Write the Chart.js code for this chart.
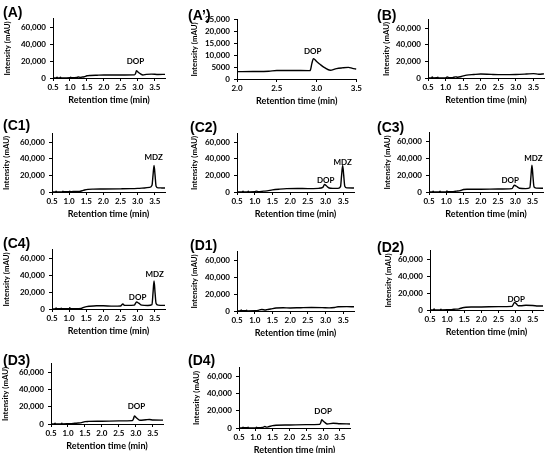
<!DOCTYPE html>
<html>
<head>
<meta charset="utf-8">
<script src="https://cdn.jsdelivr.net/npm/chart.js@4.4.1/dist/chart.umd.min.js"></script>
<style>
  body { margin: 0; background: #fff; }
  #page { position: relative; width: 550px; height: 453px; overflow: hidden; }
  .pane { position: absolute; }
  .tag { position: absolute; font: bold 14px "Liberation Sans", Arial, sans-serif; line-height: 16px; color: #000; }
</style>
</head>
<body>
<div id="page"></div>
<script>
// ---- data ----
var xTicksFull = [0.5, 1.0, 1.5, 2.0, 2.5, 3.0, 3.5];
var xTicksZoom = [2.0, 2.5, 3.0, 3.5];
var yTicksFull = [0, 20000, 40000, 60000];
var yLabelsFull = ['0', '20,000', '40,000', '60,000'];
var yTicksZoom = [0, 5000, 10000, 15000, 20000, 25000];
var yLabelsZoom = ['0', '5000', '10,000', '15,000', '20,000', '25,000'];

var tA = [0.5,0.6,0.62,0.64,0.7,0.72,0.74,0.9,1.0,1.02,1.05,1.2,1.25,1.3,1.35,1.42,1.5,1.6,1.8,2.0,2.3,2.6,2.9,2.93,2.96,3.0,3.08,3.15,3.25,3.4,3.6,3.8];
var yA = [0,200,1000,200,200,900,200,100,300,1000,300,600,1200,700,1000,1500,2600,3000,3300,3500,3500,3600,3700,5000,8600,7200,4800,3600,4300,4600,4200,4300];
var notesA = [['DOP', 2.93, 19500]];

var tAp = [2.0,2.2,2.4,2.5,2.7,2.9,2.92,2.94,2.96,3.0,3.05,3.1,3.17,3.25,3.32,3.4,3.45,3.5];
var yAp = [3100,3150,3300,3600,3600,3550,3600,6500,8600,7400,6000,4800,3700,4400,4700,4900,4500,4200];
var notesAp = [['DOP', 2.95, 11700]];

var tB = [0.5,0.6,0.62,0.65,0.75,0.78,0.8,1.0,1.05,1.1,1.2,1.28,1.35,1.45,1.6,1.8,2.0,2.3,2.6,3.0,3.3,3.5,3.65,3.8];
var yB = [0,300,1200,200,300,1000,200,200,1200,300,500,1400,900,1800,3400,4200,4800,4300,4000,4200,4800,5300,4500,5000];

var tC1 = [0.5,0.6,0.62,0.64,0.8,0.82,0.84,1.0,1.02,1.04,1.2,1.3,1.38,1.45,1.55,1.7,2.0,2.5,2.8,3.0,3.2,3.35,3.42,3.45,3.48,3.51,3.54,3.6,3.7,3.8];
var yC1 = [0,200,900,200,300,1000,300,300,1100,300,800,700,1500,2400,3200,3500,3600,3800,4000,4300,4800,5500,8000,20000,32000,20000,7000,5000,4900,4800];
var notesC1 = [['MDZ', 3.47, 42000]];

var tC2 = [0.5,0.65,0.67,0.69,0.8,0.82,0.84,1.0,1.05,1.1,1.25,1.35,1.5,1.7,1.9,2.2,2.5,2.8,2.92,2.97,3.02,3.1,3.2,3.35,3.42,3.45,3.48,3.51,3.54,3.6,3.8];
var yC2 = [0,200,1000,200,200,900,200,300,1000,400,1000,1300,2500,3400,4000,4200,4100,4400,5500,9000,7500,4800,4300,4400,6500,20000,32000,20000,7000,5000,4800];
var notesC2 = [['DOP', 3.0, 13500], ['MDZ', 3.48, 36000]];

var tC3 = [0.5,0.6,0.62,0.64,0.8,0.82,0.84,1.0,1.02,1.04,1.2,1.3,1.4,1.5,1.6,2.0,2.5,2.9,2.97,3.03,3.12,3.3,3.42,3.45,3.48,3.51,3.54,3.6,3.8];
var yC3 = [0,200,900,200,200,900,200,300,1200,300,500,1000,1600,3000,3300,3300,3500,4000,7900,6800,4500,4000,5000,18000,31600,18000,6000,4600,4500];
var notesC3 = [['DOP', 2.85, 13500], ['MDZ', 3.52, 40000]];

var tC4 = [0.5,0.6,0.62,0.64,0.75,0.77,0.79,1.0,1.02,1.04,1.2,1.35,1.45,1.6,1.8,2.0,2.3,2.5,2.57,2.62,2.7,2.9,2.97,3.03,3.12,3.3,3.42,3.45,3.48,3.51,3.54,3.6,3.8];
var yC4 = [0,300,1100,300,300,1000,300,300,1400,400,300,700,2300,3300,3900,3800,3400,3600,5900,4300,4300,4600,8200,7000,4600,4200,5200,19000,33300,19000,6500,4600,4300];
var notesC4 = [['DOP', 3.0, 13600], ['MDZ', 3.5, 41000]];

var tD1 = [0.5,0.6,0.62,0.64,0.75,0.77,0.79,1.0,1.05,1.1,1.2,1.3,1.35,1.45,1.6,1.8,2.0,2.3,2.6,2.9,3.1,3.25,3.35,3.6,3.8];
var yD1 = [0,300,1200,300,300,1000,200,300,500,800,1800,1200,1700,2400,3600,3800,3600,3900,4100,4000,3700,4200,5000,5200,5000];

var tD2 = [0.5,0.6,0.62,0.64,0.8,0.82,0.84,1.0,1.05,1.1,1.2,1.35,1.45,1.55,1.7,2.0,2.5,2.9,2.93,2.97,3.02,3.08,3.15,3.3,3.5,3.65,3.8];
var yD2 = [0,200,1200,200,200,800,200,300,500,400,900,1400,2600,3200,3500,3600,4000,4300,6500,9000,7300,5000,5000,5600,5300,4800,4700];
var notesD2 = [['DOP', 3.02, 13000]];

var tD3 = [0.5,0.6,0.62,0.64,0.8,0.82,0.84,1.0,1.1,1.2,1.3,1.4,1.5,1.6,2.0,2.5,2.9,2.93,2.96,3.0,3.06,3.12,3.3,3.4,3.5,3.8];
var yD3 = [0,200,1000,200,200,900,200,300,400,800,1100,1600,2700,3000,3200,3600,3900,6000,9400,7800,5800,4300,5000,5300,4700,4500];
var notesD3 = [['DOP', 3.02, 20000]];

var tD4 = [0.5,0.6,0.62,0.64,0.75,0.77,0.79,1.0,1.02,1.04,1.2,1.27,1.32,1.38,1.5,1.6,2.0,2.5,2.9,2.93,2.96,3.0,3.06,3.12,3.3,3.5,3.8];
var yD4 = [0,300,1000,300,300,900,200,300,900,300,600,1800,1000,1500,2800,3200,3500,3900,4200,6200,9700,8200,6200,4700,5500,5000,4700];
var notesD4 = [['DOP', 3.0, 18700]];

// panel list: tag, series, annotations, axis setup
var panels = [
  { tag: '(A)',  t: tA,  v: yA,  notes: notesA,  xMin: 0.5, xMax: 3.8, xt: xTicksFull, yMax: 70000, yt: yTicksFull, yl: yLabelsFull },
  { tag: '(A\u2019)', t: tAp, v: yAp, notes: notesAp, xMin: 2.0, xMax: 3.5, xt: xTicksZoom, yMax: 25000, yt: yTicksZoom, yl: yLabelsZoom },
  { tag: '(B)',  t: tB,  v: yB,  notes: [],      xMin: 0.5, xMax: 3.8, xt: xTicksFull, yMax: 70000, yt: yTicksFull, yl: yLabelsFull },
  { tag: '(C1)', t: tC1, v: yC1, notes: notesC1, xMin: 0.5, xMax: 3.8, xt: xTicksFull, yMax: 70000, yt: yTicksFull, yl: yLabelsFull },
  { tag: '(C2)', t: tC2, v: yC2, notes: notesC2, xMin: 0.5, xMax: 3.8, xt: xTicksFull, yMax: 70000, yt: yTicksFull, yl: yLabelsFull },
  { tag: '(C3)', t: tC3, v: yC3, notes: notesC3, xMin: 0.5, xMax: 3.8, xt: xTicksFull, yMax: 70000, yt: yTicksFull, yl: yLabelsFull },
  { tag: '(C4)', t: tC4, v: yC4, notes: notesC4, xMin: 0.5, xMax: 3.8, xt: xTicksFull, yMax: 70000, yt: yTicksFull, yl: yLabelsFull },
  { tag: '(D1)', t: tD1, v: yD1, notes: [],      xMin: 0.5, xMax: 3.8, xt: xTicksFull, yMax: 70000, yt: yTicksFull, yl: yLabelsFull },
  { tag: '(D2)', t: tD2, v: yD2, notes: notesD2, xMin: 0.5, xMax: 3.8, xt: xTicksFull, yMax: 70000, yt: yTicksFull, yl: yLabelsFull },
  { tag: '(D3)', t: tD3, v: yD3, notes: notesD3, xMin: 0.5, xMax: 3.8, xt: xTicksFull, yMax: 70000, yt: yTicksFull, yl: yLabelsFull },
  { tag: '(D4)', t: tD4, v: yD4, notes: notesD4, xMin: 0.5, xMax: 3.8, xt: xTicksFull, yMax: 70000, yt: yTicksFull, yl: yLabelsFull }
];

// plot boxes on the page: left, top, right, bottom, tag x, tag y (centre), y-axis band width
var boxes = [
  [53, 18.9, 165, 78, 3, 12, 50],
  [236.7, 19.3, 355.7, 78.7, 188, 15, 47],
  [428, 20, 543.5, 78, 377, 15, 46],
  [52, 133.7, 165.3, 192, 3, 125, 50],
  [236.7, 133.4, 353.6, 191.7, 190, 127, 47],
  [429, 132.5, 543.4, 191.7, 377, 127, 46],
  [52, 249.8, 165.3, 309.3, 3, 243, 50],
  [236.7, 251.5, 354, 311, 190, 245, 47],
  [430, 250.5, 543.3, 310, 377, 247, 46],
  [51, 364.2, 163.3, 424, 3, 360, 50],
  [239, 367.7, 350, 427.7, 188, 360, 47]
];

Chart.defaults.font.family = 'Lato';
Chart.defaults.color = '#000';

var X_BAND = 27;

var peakLabels = {
  id: 'peakLabels',
  afterDatasetsDraw: function(chart, args, opts) {
    var ctx = chart.ctx;
    ctx.save();
    ctx.font = 'bold 8px Lato';
    ctx.fillStyle = '#000';
    ctx.textAlign = 'center';
    ctx.textBaseline = 'middle';
    (opts.notes || []).forEach(function(n) {
      ctx.fillText(n[0], chart.scales.x.getPixelForValue(n[1]), chart.scales.y.getPixelForValue(n[2]));
    });
    ctx.restore();
  }
};

function makeChart(holder, p, yBand, w, h) {
  var canvas = document.createElement('canvas');
  canvas.width = w;
  canvas.height = h;
  canvas.style.width = w + 'px';
  canvas.style.height = h + 'px';
  holder.appendChild(canvas);

  var pts = p.t.map(function(x, i) { return { x: x, y: p.v[i] }; });

  return new Chart(canvas.getContext('2d'), {
    type: 'line',
    data: {
      datasets: [{
        data: pts,
        borderColor: '#000',
        borderWidth: 1.4,
        pointRadius: 0,
        cubicInterpolationMode: 'monotone',
        fill: false
      }]
    },
    options: {
      responsive: false,
      animation: false,
      devicePixelRatio: 1,
      layout: { padding: { top: 6, right: 4, left: 0, bottom: 0 } },
      plugins: {
        legend: { display: false },
        tooltip: { enabled: false },
        peakLabels: { notes: p.notes }
      },
      scales: {
        x: {
          type: 'linear',
          min: p.xMin,
          max: p.xMax,
          afterBuildTicks: function(axis) { axis.ticks = p.xt.map(function(v) { return { value: v }; }); },
          afterFit: function(s) { s.height = X_BAND; },
          border: { color: '#000', width: 1 },
          grid: { drawOnChartArea: false, drawTicks: true, tickLength: 3, color: '#000' },
          ticks: {
            maxRotation: 0,
            autoSkip: false,
            padding: 2,
            font: { size: 8, weight: 'bold' },
            callback: function(v) { return Number(v).toFixed(1); }
          },
          title: {
            display: true,
            text: 'Retention time (min)',
            padding: { top: 0, bottom: 0 },
            font: { size: 9, weight: 'bold' }
          }
        },
        y: {
          min: 0,
          max: p.yMax,
          afterBuildTicks: function(axis) { axis.ticks = p.yt.map(function(v) { return { value: v }; }); },
          afterFit: function(s) { s.width = yBand; },
          border: { color: '#000', width: 1 },
          grid: { drawOnChartArea: false, drawTicks: true, tickLength: 3, color: '#000' },
          ticks: {
            autoSkip: false,
            padding: 4,
            font: { size: 8, weight: 'bold' },
            callback: function(v) { var k = p.yt.indexOf(v); return k >= 0 ? p.yl[k] : ''; }
          },
          title: {
            display: true,
            text: 'Intensity (mAU)',
            padding: { top: 0, bottom: 0 },
            font: { size: 7.8, weight: 'bold' }
          }
        }
      }
    },
    plugins: [peakLabels]
  });
}

var page = document.getElementById('page');

panels.forEach(function(p, i) {
  var b = boxes[i];
  var wantW = b[2] - b[0];
  var wantH = b[3] - b[1];

  var holder = document.createElement('div');
  holder.className = 'pane';
  page.appendChild(holder);

  var w = Math.round(b[6] + wantW + 4);
  var h = Math.round(6 + wantH + X_BAND);
  var chart = makeChart(holder, p, b[6], w, h);
  var a = chart.chartArea;
  var dw = Math.round(wantW - (a.right - a.left));
  var dh = Math.round(wantH - (a.bottom - a.top));
  if (dw !== 0 || dh !== 0) {
    chart.destroy();
    holder.innerHTML = '';
    chart = makeChart(holder, p, b[6], w + dw, h + dh);
    a = chart.chartArea;
  }
  holder.style.left = (b[0] - a.left) + 'px';
  holder.style.top = (b[3] - a.bottom) + 'px';

  var tag = document.createElement('div');
  tag.className = 'tag';
  tag.textContent = p.tag;
  tag.style.left = b[4] + 'px';
  tag.style.top = (b[5] - 8) + 'px';
  page.appendChild(tag);
});
</script>
</body>
</html>
